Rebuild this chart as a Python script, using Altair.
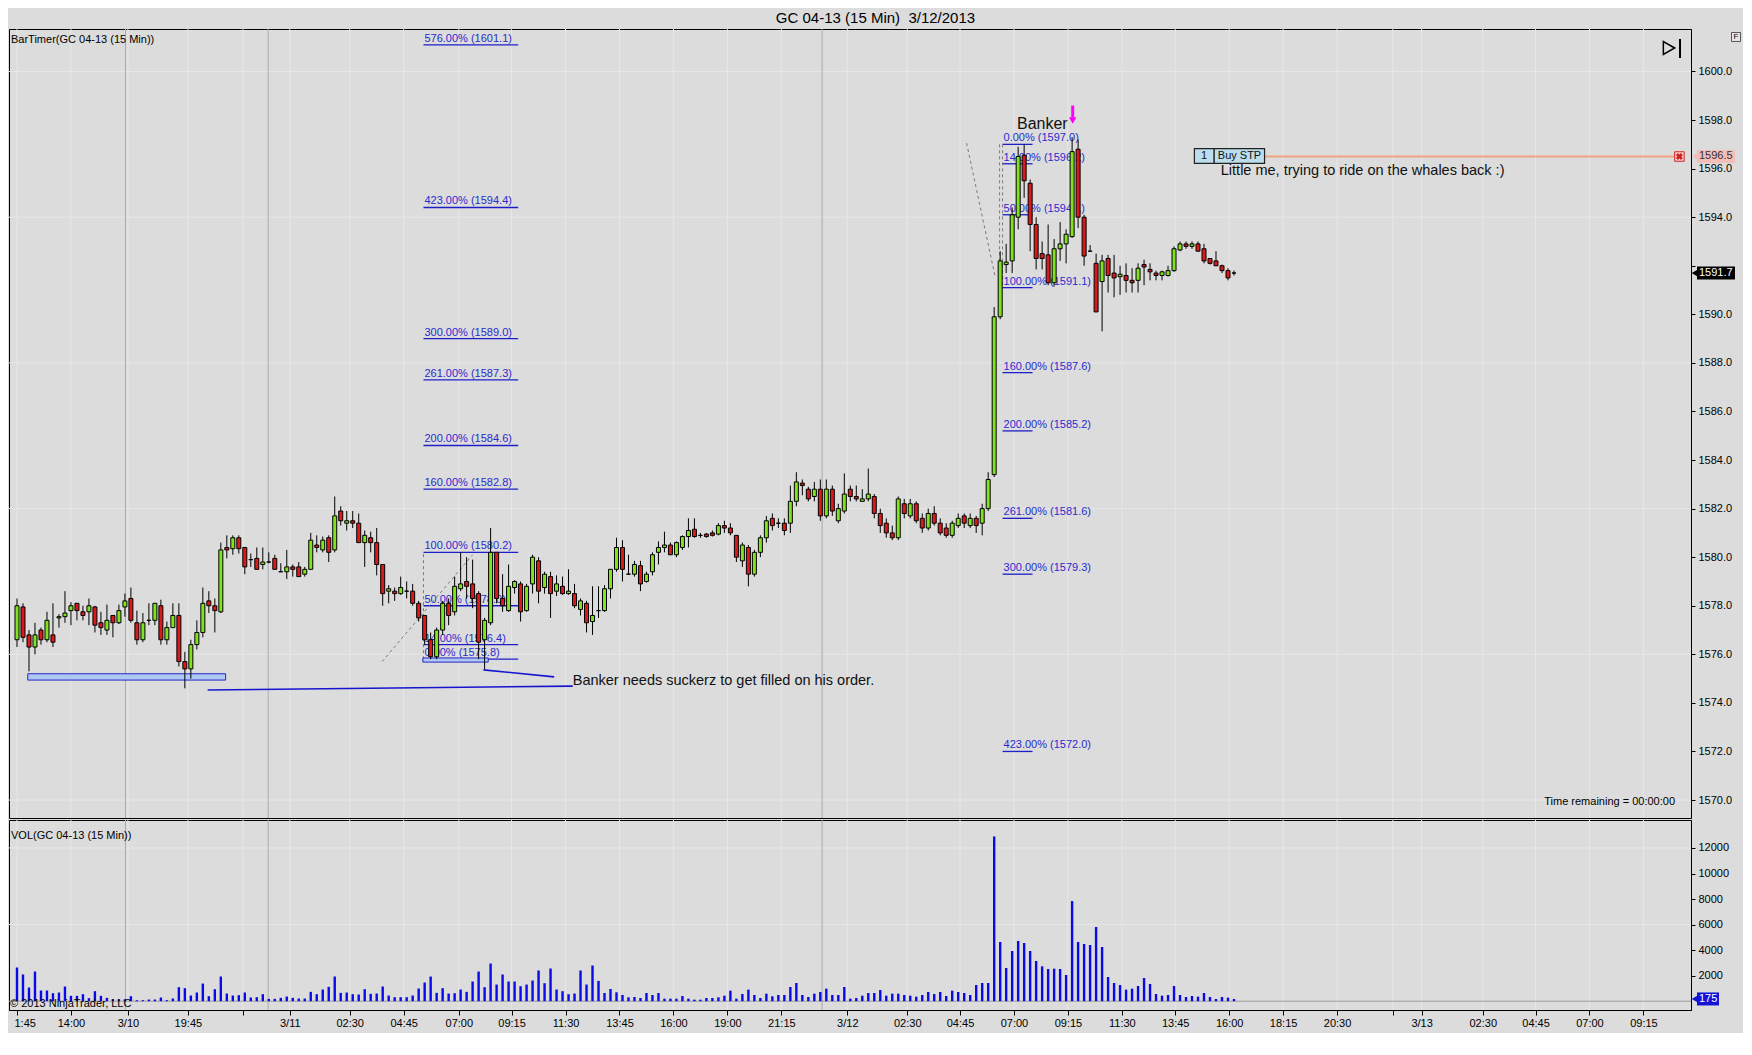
import altair as alt
import pandas as pd

FONT = "Liberation Sans"

# ---------------- 15-minute OHLC bars (GC 04-13) ----------------
opens = [
    1576.6, 1577.95, 1576.8, 1576.3, 1577.0, 1576.6, 1576.8, 1577.5, 1577.55, 1577.8,
    1578.1, 1577.75, 1577.75, 1577.95, 1577.3, 1577.0, 1577.6, 1577.3, 1577.95, 1578.3,
    1577.3, 1576.6, 1577.4, 1577.4, 1578.0, 1576.6, 1577.1, 1577.6, 1575.7, 1575.4,
    1576.4, 1576.9, 1578.2, 1578.0, 1577.75, 1580.4, 1580.35, 1580.8, 1580.4, 1579.9,
    1579.95, 1579.7, 1579.8, 1579.95, 1579.4, 1579.4, 1579.6, 1579.6, 1579.3, 1579.5,
    1580.5, 1580.3, 1580.8, 1580.3, 1581.9, 1581.4, 1581.5, 1581.4, 1580.6, 1580.8,
    1580.6, 1579.7, 1578.6, 1578.6, 1578.5, 1578.6, 1578.6, 1578.1, 1577.6, 1576.6,
    1575.9, 1577.0, 1578.1, 1577.75, 1578.7, 1579.0, 1578.9, 1578.5, 1576.6, 1577.3,
    1580.2, 1578.3, 1577.8, 1578.75, 1578.9, 1577.8, 1578.9, 1579.85, 1578.75, 1579.2,
    1578.6, 1578.8, 1578.5, 1578.5, 1577.85, 1578.1, 1577.35, 1577.8, 1577.8, 1578.7,
    1579.5, 1580.4, 1579.3, 1579.3, 1579.65, 1579.0, 1579.4, 1580.2, 1580.4, 1580.5,
    1580.1, 1580.4, 1580.85, 1581.15, 1580.9, 1580.95, 1581.0, 1580.95, 1581.3, 1581.2,
    1580.9, 1579.85, 1580.4, 1579.3, 1580.2, 1580.8, 1581.6, 1581.4, 1581.4, 1581.4,
    1582.3, 1583.05, 1582.8, 1582.5, 1582.8, 1581.7, 1582.8, 1581.5, 1581.9, 1582.8,
    1582.5, 1582.3, 1582.4, 1582.5, 1581.8, 1581.4, 1581.0, 1580.8, 1582.2, 1581.7,
    1582.2, 1581.6, 1581.2, 1581.8, 1581.4, 1581.2, 1580.9, 1581.3, 1581.7, 1581.3,
    1581.6, 1581.4, 1582.0, 1583.4, 1589.9, 1592.05, 1592.2, 1594.0, 1596.55, 1595.4,
    1593.7, 1592.5, 1592.45, 1591.3, 1592.7, 1592.9, 1593.2, 1596.8, 1594.0, 1592.6,
    1592.1, 1591.35, 1592.3, 1591.7, 1591.55, 1591.6, 1591.4, 1591.4, 1592.05, 1591.85,
    1591.7, 1591.6, 1591.6, 1591.8, 1592.65, 1592.9, 1592.8, 1592.9, 1592.7, 1592.3,
    1592.2, 1592.0, 1591.8, 1591.7,
]
highs = [
    1578.3, 1578.1, 1577.0, 1577.3, 1577.1, 1577.75, 1578.1, 1577.65, 1578.6, 1578.15,
    1578.1, 1578.0, 1578.3, 1578.0, 1577.75, 1578.05, 1577.6, 1578.05, 1578.5, 1578.75,
    1577.8, 1577.7, 1578.1, 1578.1, 1578.25, 1577.35, 1578.1, 1578.1, 1576.1, 1576.6,
    1577.4, 1578.75, 1578.6, 1578.3, 1580.6, 1580.9, 1580.9, 1580.9, 1580.4, 1580.15,
    1580.4, 1580.4, 1580.2, 1580.1, 1579.75, 1580.3, 1579.7, 1579.8, 1579.6, 1581.0,
    1580.9, 1580.85, 1580.9, 1582.5, 1582.1, 1581.9, 1581.9, 1581.8, 1581.1, 1581.05,
    1581.2, 1579.7, 1578.85, 1578.75, 1579.2, 1579.0, 1578.9, 1578.2, 1577.6, 1576.9,
    1577.1, 1578.2, 1578.3, 1579.2, 1580.2, 1580.0, 1579.9, 1578.6, 1577.5, 1581.2,
    1580.2, 1579.3, 1579.7, 1579.05, 1579.0, 1578.9, 1580.1, 1580.0, 1579.4, 1579.4,
    1579.25, 1579.2, 1579.5, 1578.9, 1578.3, 1578.2, 1578.8, 1578.8, 1578.85, 1579.5,
    1580.8, 1580.7, 1580.1, 1579.85, 1579.85, 1579.4, 1580.2, 1580.65, 1581.05, 1580.6,
    1580.65, 1580.9, 1581.6, 1581.6, 1581.0, 1581.0, 1581.1, 1581.4, 1581.5, 1581.4,
    1580.9, 1580.6, 1580.5, 1580.3, 1580.9, 1581.7, 1581.8, 1581.6, 1581.6, 1582.95,
    1583.5, 1583.2, 1582.9, 1583.1, 1583.2, 1583.2, 1582.95, 1582.2, 1583.45, 1582.95,
    1582.95, 1582.8, 1583.65, 1582.6, 1582.0, 1581.6, 1581.3, 1582.5, 1582.4, 1582.4,
    1582.3, 1581.8, 1582.0, 1582.1, 1581.6, 1581.4, 1581.5, 1581.8, 1581.8, 1581.8,
    1581.7, 1582.2, 1583.5, 1590.3, 1592.6, 1592.9, 1594.4, 1596.9, 1597.0, 1595.55,
    1594.0, 1593.0, 1593.7, 1593.1, 1593.8, 1593.5, 1597.3, 1597.2, 1594.1, 1592.85,
    1592.5, 1592.45, 1592.45, 1592.45, 1592.0, 1592.1, 1591.9, 1592.1, 1592.25, 1592.1,
    1591.8, 1591.8, 1592.0, 1592.8, 1593.0, 1593.0, 1593.0, 1593.0, 1592.9, 1592.3,
    1592.6, 1592.05, 1591.9, 1591.8,
]
lows = [
    1576.3, 1576.5, 1575.3, 1576.0, 1576.4, 1576.5, 1576.3, 1577.1, 1577.3, 1577.2,
    1577.4, 1577.4, 1577.2, 1576.9, 1576.8, 1576.8, 1576.7, 1577.25, 1577.55, 1577.3,
    1576.4, 1576.5, 1577.2, 1577.2, 1576.4, 1576.4, 1577.1, 1575.5, 1574.6, 1575.0,
    1576.2, 1576.7, 1577.7, 1576.9, 1577.7, 1579.95, 1580.1, 1580.15, 1579.3, 1579.6,
    1579.5, 1579.5, 1579.75, 1579.5, 1579.4, 1579.1, 1579.2, 1579.2, 1579.2, 1579.5,
    1580.2, 1580.2, 1579.8, 1580.2, 1581.3, 1581.1, 1581.2, 1580.6, 1579.6, 1580.2,
    1579.25, 1578.0, 1578.1, 1578.2, 1578.45, 1578.3, 1578.0, 1577.35, 1576.4, 1575.8,
    1575.8, 1576.8, 1577.2, 1577.6, 1578.6, 1578.3, 1577.9, 1575.8, 1575.4, 1577.2,
    1578.1, 1577.75, 1577.75, 1578.5, 1577.35, 1577.75, 1578.5, 1578.1, 1578.5, 1577.5,
    1578.4, 1578.45, 1578.45, 1577.9, 1577.6, 1576.9, 1576.8, 1577.5, 1577.75, 1578.3,
    1579.4, 1579.0, 1579.3, 1579.2, 1578.6, 1578.95, 1579.25, 1579.7, 1580.2, 1580.1,
    1580.0, 1580.3, 1580.4, 1580.8, 1580.8, 1580.8, 1580.85, 1580.9, 1581.0, 1580.9,
    1579.8, 1579.6, 1578.8, 1579.2, 1580.0, 1580.6, 1581.1, 1581.2, 1580.9, 1581.0,
    1582.1, 1582.55, 1582.3, 1582.3, 1581.5, 1581.6, 1581.7, 1581.4, 1581.8, 1582.3,
    1582.3, 1582.3, 1582.3, 1581.6, 1581.0, 1580.8, 1580.7, 1580.7, 1581.6, 1581.6,
    1581.4, 1581.0, 1581.1, 1581.3, 1580.9, 1580.8, 1580.8, 1581.2, 1581.2, 1581.2,
    1581.0, 1580.9, 1581.9, 1583.3, 1589.8, 1591.7, 1591.7, 1593.5, 1594.8, 1592.6,
    1591.85, 1591.85, 1591.2, 1591.15, 1592.2, 1592.1, 1593.15, 1593.55, 1592.0, 1592.6,
    1590.1, 1589.3, 1590.9, 1590.7, 1590.8, 1590.9, 1590.9, 1590.9, 1591.2, 1591.4,
    1591.4, 1591.4, 1591.55, 1591.75, 1592.6, 1592.7, 1592.7, 1592.6, 1592.1, 1592.05,
    1592.0, 1591.7, 1591.4, 1591.6,
]
closes = [
    1578.0, 1576.7, 1576.3, 1576.8, 1576.6, 1577.4, 1576.5, 1577.55, 1577.7, 1578.0,
    1577.8, 1577.6, 1578.0, 1577.2, 1577.1, 1577.4, 1577.3, 1577.8, 1578.2, 1577.4,
    1576.6, 1577.3, 1577.4, 1578.1, 1576.6, 1577.1, 1577.6, 1575.7, 1575.4, 1576.4,
    1576.9, 1578.1, 1578.0, 1577.8, 1580.3, 1580.3, 1580.8, 1580.35, 1579.6, 1579.9,
    1579.5, 1579.8, 1579.8, 1579.5, 1579.4, 1579.6, 1579.5, 1579.2, 1579.5, 1580.7,
    1580.4, 1580.7, 1580.2, 1581.7, 1581.5, 1581.5, 1581.4, 1580.6, 1580.9, 1580.6,
    1579.7, 1578.5, 1578.7, 1578.5, 1578.75, 1578.6, 1578.1, 1577.5, 1576.6, 1575.9,
    1577.0, 1578.1, 1577.6, 1578.8, 1578.9, 1578.8, 1578.3, 1576.5, 1577.4, 1580.2,
    1578.3, 1578.0, 1578.8, 1579.0, 1577.75, 1578.8, 1580.0, 1578.6, 1579.3, 1578.5,
    1578.9, 1578.5, 1578.6, 1578.0, 1578.2, 1577.3, 1577.6, 1577.8, 1578.7, 1579.5,
    1580.4, 1579.5, 1579.3, 1579.7, 1578.9, 1579.3, 1580.1, 1580.4, 1580.5, 1580.1,
    1580.6, 1580.85, 1581.1, 1580.85, 1580.9, 1580.85, 1580.9, 1581.3, 1581.2, 1581.0,
    1580.0, 1580.5, 1579.3, 1580.2, 1580.8, 1581.5, 1581.3, 1581.4, 1581.1, 1582.3,
    1583.1, 1582.95, 1582.4, 1582.8, 1581.7, 1582.8, 1581.9, 1582.0, 1582.6, 1582.5,
    1582.4, 1582.4, 1582.6, 1581.8, 1581.3, 1581.0, 1580.8, 1582.4, 1581.8, 1582.2,
    1581.5, 1581.2, 1581.8, 1581.4, 1581.0, 1580.9, 1581.4, 1581.6, 1581.4, 1581.6,
    1581.3, 1582.0, 1583.2, 1589.9, 1592.2, 1592.15, 1594.1, 1596.5, 1595.5, 1593.7,
    1592.3, 1592.3, 1591.3, 1592.7, 1592.9, 1593.3, 1596.7, 1594.0, 1592.4, 1592.6,
    1590.1, 1592.2, 1591.6, 1591.5, 1591.65, 1591.4, 1591.3, 1591.9, 1591.95, 1591.75,
    1591.6, 1591.75, 1591.8, 1592.7, 1592.9, 1592.8, 1592.9, 1592.6, 1592.2, 1592.1,
    1592.0, 1591.8, 1591.5, 1591.7,
]
volumes = [
    2636, 2088, 1070, 2323, 835, 835, 626, 679, 1148, 418,
    418, 548, 235, 783, 418, 261, 157, 157, 157, 392,
    78, 78, 130, 130, 287, 78, 209, 1096, 1018, 444,
    679, 1383, 392, 940, 1931, 600, 444, 470, 679, 287,
    313, 548, 183, 183, 261, 365, 261, 209, 209, 731,
    548, 914, 1122, 1931, 653, 679, 548, 522, 940, 574,
    600, 1148, 444, 313, 313, 313, 444, 992, 1462, 1931,
    653, 1018, 600, 626, 914, 731, 1540, 2323, 1096, 2949,
    1305, 2088, 1540, 1540, 1174, 1305, 1618, 2401, 1409, 2558,
    914, 783, 548, 600, 2401, 1305, 2793, 1592, 642, 955,
    695, 485, 303, 329, 251, 642, 485, 642, 198, 198,
    198, 407, 198, 120, 120, 251, 251, 303, 433, 825,
    198, 564, 903, 485, 251, 590, 381, 485, 485, 1112,
    1425, 485, 329, 590, 720, 981, 485, 485, 1112, 198,
    251, 433, 642, 642, 877, 433, 590, 590, 485, 433,
    355, 485, 720, 564, 720, 407, 825, 720, 642, 485,
    1268, 1425, 1425, 12900, 4635, 2597, 3931, 4714, 4557, 3931,
    3148, 2730, 2521, 2547, 2521, 2051, 7843, 4635, 4478, 4400,
    5810, 4244, 1895, 1425, 1268, 903, 981, 1190, 1817, 1347,
    564, 433, 485, 1190, 485, 329, 407, 355, 642, 329,
    172, 329, 277, 175,
]

# ---------------- axis ticks / labels ----------------
tick_pos = [0, 9, 18.5, 28.5, 37.7, 45.5, 55.5, 64.5, 73.7, 82.5, 91.5, 100.5, 109.5,
            118.5, 127.5, 138.5, 148.5, 157.3, 166.3, 175.3, 184.3, 193.2, 202.2,
            211.2, 220.2, 229.5, 234.3, 244.5, 253.3, 262.3, 271.3]
tick_labels = ["1:45", "14:00", "3/10", "19:45", "", "3/11", "02:30", "04:45", "07:00",
               "09:15", "11:30", "13:45", "16:00", "19:00", "21:15", "3/12", "02:30",
               "04:45", "07:00", "09:15", "11:30", "13:45", "16:00", "18:15", "20:30",
               "", "3/13", "02:30", "04:45", "07:00", "09:15"]
session_breaks = [18.1, 41.9, 134.3]
price_ticks = [1570 + 2 * k for k in range(16)]
price_hidden = [1592]          # label covered by the current-price marker
price_grid = [1570, 1576, 1582, 1588, 1594, 1600]
vol_ticks = [2000, 4000, 6000, 8000, 10000, 12000]
vol_grid = [6000, 12000]

# ---------------- Fibonacci drawings ----------------
left_fib_pct = ["576.00%", "423.00%", "300.00%", "261.00%", "200.00%", "160.00%",
                "100.00%", "50.00%", "14.00%", "0.00%"]
left_fib_price = [1601.1, 1594.4, 1589.0, 1587.3, 1584.6, 1582.8, 1580.2, 1578.0, 1576.4, 1575.8]
right_fib_pct = ["0.00%", "14.00%", "50.00%", "100.00%", "160.00%", "200.00%",
                 "261.00%", "300.00%", "423.00%"]
right_fib_price = [1597.0, 1596.2, 1594.1, 1591.1, 1587.6, 1585.2, 1581.6, 1579.3, 1572.0]
left_fib_span = (67.8, 83.6)
right_fib_span = (164.4, 169.4)

order_price = 1596.5
title_text = "GC 04-13 (15 Min) \u00a03/12/2013"

# ---------------- scales & styling ----------------
W, HP, HV = 1682, 789, 190
xs = alt.Scale(domain=[-0.5, 278.4], nice=False, zero=False)
ps = alt.Scale(domain=[1569.26, 1601.75], nice=False, zero=False)
vs = alt.Scale(domain=[-690, 14190], nice=False, zero=False)
BLUE = "#1E1EC8"
GREEN = "#7FE31E"
RED = "#DA1A1A"
GRID = "#E7E7E7"

df = pd.DataFrame(dict(i=list(range(len(opens))), o=opens, h=highs, l=lows, c=closes, v=volumes))
df["dir"] = ["up" if c >= o else "down" for o, c in zip(opens, closes)]

hidden_test = " || ".join(f"datum.value == {v}" for v in price_hidden)
price_axis = alt.Axis(orient="right", values=price_ticks,
                      labelExpr=f"({hidden_test}) ? '' : format(datum.value, '.1f')",
                      grid=False, tickSize=4,
                      tickColor="black", domainColor="black", labelColor="black",
                      labelFontSize=11, labelFont=FONT, labelPadding=3, title=None,
                      labelFlush=False, labelOverlap=False)
vol_axis = alt.Axis(orient="right", values=vol_ticks, format="d", grid=False, tickSize=4,
                    tickColor="black", domainColor="black", labelColor="black",
                    labelFontSize=11, labelFont=FONT, labelPadding=3, title=None,
                    labelFlush=False, labelOverlap=False)
label_map = "{" + ",".join(f"'{format(p, 'g')}':'{t}'" for p, t in zip(tick_pos, tick_labels)) + "}"
x_axis = alt.Axis(values=tick_pos, labelExpr=f"{label_map}[''+datum.value]", grid=False,
                  tickSize=5, tickColor="black", domainColor="black", labelColor="black",
                  labelFontSize=11, labelFont=FONT, labelPadding=2, title=None,
                  labelOverlap=False, labelFlush=False, labelBound=False,
                  labelAlign={"condition": {"test": "datum.value < 1", "value": "left"},
                              "value": "center"},
                  labelOffset={"condition": {"test": "datum.value < 1", "value": -3},
                               "value": 0})


def PX(field):
    return alt.X(field, scale=xs, axis=None)


def PY(field):
    return alt.Y(field, scale=ps, axis=price_axis)


def VX(field):
    return alt.X(field, scale=xs, axis=x_axis)


def VY(field, **kw):
    return alt.Y(field, scale=vs, axis=vol_axis, **kw)


one = pd.DataFrame({"a": [0]})

# ================= PRICE PANEL =================
vgrid = alt.Chart(pd.DataFrame({"t": tick_pos})).mark_rule(color=GRID).encode(x=PX("t:Q"))
hgrid = alt.Chart(pd.DataFrame({"p": price_grid})).mark_rule(color=GRID).encode(y=PY("p:Q"))
seps = alt.Chart(pd.DataFrame({"t": session_breaks})).mark_rule(color="#ABABAB").encode(x=PX("t:Q"))

fib_l = pd.DataFrame({"p": left_fib_price,
                      "label": [f"{a} ({b:.1f})" for a, b in zip(left_fib_pct, left_fib_price)]})
fib_l["x1"], fib_l["x2"] = left_fib_span
fib_r = pd.DataFrame({"p": right_fib_price,
                      "label": [f"{a} ({b:.1f})" for a, b in zip(right_fib_pct, right_fib_price)]})
fib_r["x1"], fib_r["x2"] = right_fib_span
fib = pd.concat([fib_l, fib_r], ignore_index=True)
fib_lines = alt.Chart(fib).mark_rule(color=BLUE, strokeWidth=1.3).encode(
    x=PX("x1:Q"), x2="x2:Q", y=PY("p:Q"))
fib_text = alt.Chart(fib).mark_text(align="left", baseline="bottom", dx=1, dy=-1, fontSize=11,
                                    font=FONT, color="#2A2ACF").encode(
    x=PX("x1:Q"), y=PY("p:Q"), text="label:N")

dash = pd.DataFrame({"x1": [60.9, 67.8, 158.4, 163.9, 164.4],
                     "y1": [1575.7, 1575.8, 1597.05, 1597.0, 1597.0],
                     "x2": [76.0, 67.8, 163.2, 163.9, 164.4],
                     "y2": [1580.1, 1580.2, 1591.5, 1591.3, 1591.1]})
dashed = alt.Chart(dash).mark_rule(color="#7A7A7A", strokeDash=[3, 3], strokeWidth=1).encode(
    x=PX("x1:Q"), x2="x2:Q", y=PY("y1:Q"), y2="y2:Q")

boxes = pd.DataFrame({"x1": [1.8, 67.7], "x2": [34.8, 78.6],
                      "y1": [1574.94, 1575.68], "y2": [1575.20, 1575.85]})
support = alt.Chart(boxes).mark_rect(fill="#AFC8F2", stroke="#2626C8", strokeWidth=1).encode(
    x=PX("x1:Q"), x2="x2:Q", y=PY("y1:Q"), y2="y2:Q")

wicks = alt.Chart(df).mark_rule(color="black", strokeWidth=1).encode(
    x=PX("i:Q"), y=PY("l:Q"), y2="h:Q")
bodies = alt.Chart(df).mark_bar(size=4, stroke="black", strokeWidth=1).encode(
    x=PX("i:Q"), y=PY("o:Q"), y2="c:Q",
    fill=alt.Fill("dir:N", scale=alt.Scale(domain=["up", "down"], range=[GREEN, RED]), legend=None))

ann = pd.DataFrame({"x1": [31.8, 77.8], "y1": [1574.53, 1575.36],
                    "x2": [92.7, 89.6], "y2": [1574.69, 1575.07]})
ann_lines = alt.Chart(ann).mark_rule(color="#1515D0", strokeWidth=1.6).encode(
    x=PX("x1:Q"), x2="x2:Q", y=PY("y1:Q"), y2="y2:Q")

notes = pd.DataFrame({"x": [92.7, 166.8, 200.8], "y": [1574.9, 1597.85, 1595.9],
                      "t": ["Banker needs suckerz to get filled on his order.", "Banker",
                            "Little me, trying to ride on the whales back :)"],
                      "s": [14.5, 16, 14.5]})
note_text = alt.Chart(notes).mark_text(align="left", baseline="middle", font=FONT,
                                       color="#111111").encode(
    x=PX("x:Q"), y=PY("y:Q"), text="t:N", size=alt.Size("s:Q", scale=None, legend=None))

arrow_df = pd.DataFrame({"x": [176.1], "y1": [1598.6], "y2": [1598.1], "yh": [1597.98]})
arrow_stem = alt.Chart(arrow_df).mark_rule(color="#FF00FF", strokeWidth=3).encode(
    x=PX("x:Q"), y=PY("y1:Q"), y2="y2:Q")
arrow_head = alt.Chart(arrow_df).mark_point(shape="triangle-down", filled=True, size=55,
                                            color="#FF00FF", opacity=1).encode(
    x=PX("x:Q"), y=PY("yh:Q"))

order_cells = pd.DataFrame({"x1": [196.4, 199.7], "x2": [199.7, 208.1],
                            "y1": [1596.22, 1596.22], "y2": [1596.82, 1596.82]})
order_box = alt.Chart(order_cells).mark_rect(fill="#BCDDEB", stroke="#222222", strokeWidth=1.2).encode(
    x=PX("x1:Q"), x2="x2:Q", y=PY("y1:Q"), y2="y2:Q")
order_txt = alt.Chart(pd.DataFrame({"x": [197.5, 200.3], "y": [order_price + 0.02] * 2,
                                    "t": ["1", "Buy STP"]})).mark_text(
    align="left", baseline="middle", fontSize=11, font=FONT, color="#111111").encode(
    x=PX("x:Q"), y=PY("y:Q"), text="t:N")
order_line = alt.Chart(pd.DataFrame({"x1": [208.1], "x2": [277.3], "p": [order_price]})).mark_rule(
    color="#F2A27E", strokeWidth=2).encode(x=PX("x1:Q"), x2="x2:Q", y=PY("p:Q"))
order_x_box = alt.Chart(pd.DataFrame({"x": [277.3], "p": [order_price]})).mark_point(
    shape="square", size=90, filled=True, fill="#F6D6D6", stroke="#D42020", strokeWidth=1,
    opacity=1).encode(x=PX("x:Q"), y=PY("p:Q"))
order_x = alt.Chart(pd.DataFrame({"x": [277.3], "p": [order_price]})).mark_point(
    shape="cross", angle=45, size=50, filled=True, color="#D42020", opacity=1).encode(
    x=PX("x:Q"), y=PY("p:Q"))


def axis_marker(value, text, fill, text_color, yenc, box_w=38):
    d = pd.DataFrame({"p": [value]})
    box = alt.Chart(d).mark_rule(strokeWidth=13, strokeCap="butt", color=fill).encode(
        x=alt.value(W + 6), x2=alt.value(W + 6 + box_w), y=yenc("p:Q"))
    ptr = alt.Chart(d).mark_point(shape="triangle-left", filled=True, size=60, color=fill,
                                  opacity=1).encode(x=alt.value(W + 4), y=yenc("p:Q"))
    txt = alt.Chart(d).mark_text(text=text, align="left", baseline="middle", fontSize=11,
                                 font=FONT, color=text_color).encode(
        x=alt.value(W + 8), y=yenc("p:Q"))
    return [box, ptr, txt]


cur_marker = axis_marker(closes[-1], f"{closes[-1]:.1f}", "#000000", "#FFFFFF", PY)
ord_marker = axis_marker(order_price, f"{order_price:.1f}", "#F5BDB8", "#333333", PY)

bartimer = alt.Chart(one).mark_text(text="BarTimer(GC 04-13 (15 Min))", align="left",
                                    baseline="middle", fontSize=11, font=FONT,
                                    color="black").encode(x=alt.value(2), y=alt.value(11))
remaining = alt.Chart(one).mark_text(text="Time remaining = 00:00:00", align="right",
                                     baseline="middle", fontSize=11, font=FONT,
                                     color="black").encode(x=alt.value(W - 16), y=alt.value(773))
icon_tri = alt.Chart(one).mark_point(shape="triangle-right", filled=False, size=170,
                                     color="black", strokeWidth=1.5, opacity=1).encode(
    x=alt.value(W - 22), y=alt.value(19))
icon_bar = alt.Chart(one).mark_rule(color="black", strokeWidth=2).encode(
    x=alt.value(W - 11), y=alt.value(10), y2=alt.value(29))
f_box = alt.Chart(one).mark_point(shape="square", filled=True, fill="#E8E8E8", stroke="#555555",
                                  strokeWidth=1, size=80, opacity=1).encode(
    x=alt.value(W + 45), y=alt.value(8))
f_txt = alt.Chart(one).mark_text(text="F", fontSize=8, font=FONT, color="black").encode(
    x=alt.value(W + 45), y=alt.value(8))

price_panel = alt.layer(
    hgrid, vgrid, seps, fib_lines, fib_text, dashed, support, wicks, bodies,
    ann_lines, note_text, arrow_stem, arrow_head, order_line, order_box, order_txt,
    order_x_box, order_x, *ord_marker, *cur_marker, bartimer, remaining, icon_tri, icon_bar,
    f_box, f_txt,
).properties(width=W, height=HP)

# ================= VOLUME PANEL =================
vgrid_v = alt.Chart(pd.DataFrame({"t": tick_pos})).mark_rule(color=GRID).encode(x=VX("t:Q"))
hgrid_v = alt.Chart(pd.DataFrame({"v": vol_grid})).mark_rule(color=GRID).encode(y=VY("v:Q"))
seps_v = alt.Chart(pd.DataFrame({"t": session_breaks})).mark_rule(color="#ABABAB").encode(x=VX("t:Q"))
zero_v = alt.Chart(pd.DataFrame({"v": [0]})).mark_rule(color="#9C9C9C").encode(y=VY("v:Q"))
vbars = alt.Chart(df).mark_bar(size=2.4, color="#0A0AE8").encode(
    x=VX("i:Q"), y=VY("v:Q", stack=None))
vol_label = alt.Chart(one).mark_text(text="VOL(GC 04-13 (15 Min))", align="left",
                                     baseline="middle", fontSize=11, font=FONT,
                                     color="black").encode(x=alt.value(2), y=alt.value(16))
copyright_txt = alt.Chart(one).mark_text(text="\u00a9 2013 NinjaTrader, LLC", align="left",
                                         baseline="middle", fontSize=11, font=FONT,
                                         color="black").encode(x=alt.value(1), y=alt.value(184))
vol_marker = axis_marker(volumes[-1], str(volumes[-1]), "#1212D8", "#FFFFFF", VY, box_w=22)

vol_panel = alt.layer(
    vgrid_v, hgrid_v, seps_v, zero_v, vbars, vol_label, copyright_txt, *vol_marker
).properties(width=W, height=HV)

chart = alt.vconcat(price_panel, vol_panel, spacing=0).properties(
    title=alt.TitleParams(title_text, fontSize=15, font=FONT, fontWeight="normal",
                          color="black", anchor="middle", offset=2),
    padding={"left": 0, "top": 3, "right": 0, "bottom": 4},
).configure(background="#DCDCDC", font=FONT).configure_view(
    stroke="black", strokeWidth=1).configure_concat(spacing=0)

chart.save("out.html", embed_options={"renderer": "svg", "actions": False})
